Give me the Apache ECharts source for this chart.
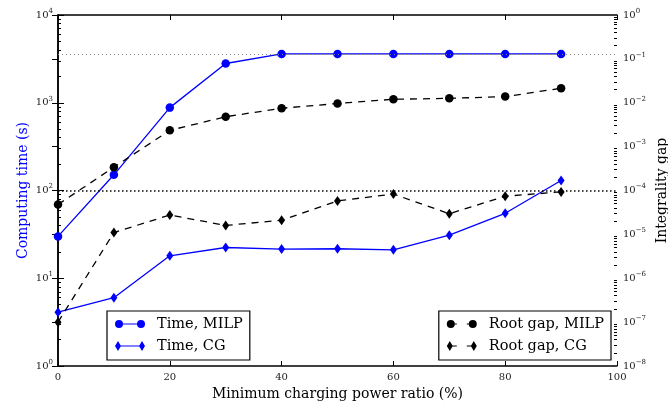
<!DOCTYPE html>
<html><head><meta charset="utf-8">
<script src="https://cdn.jsdelivr.net/npm/echarts@6/dist/echarts.min.js"></script>
<style>html,body{margin:0;padding:0;background:#fff}#c{width:668px;height:406px}</style>
</head><body><div id="c"></div>
<script>
// ---- data ----
const ratios   = [0, 10, 20, 30, 40, 50, 60, 70, 80, 90];
const timeMILP = [30, 151, 880, 2800, 3600, 3600, 3600, 3600, 3600, 3600];
const timeCG   = [4.1, 6.0, 18, 22.4, 21.5, 21.7, 21.1, 31, 55, 130];
const gapMILP  = [4.8e-5, 3.4e-4, 2.35e-3, 4.8e-3, 7.5e-3, 9.6e-3, 1.2e-2, 1.26e-2, 1.38e-2, 2.14e-2];
const gapCG    = [1.0e-7, 1.1e-5, 2.76e-5, 1.6e-5, 2.1e-5, 5.8e-5, 8.3e-5, 2.95e-5, 7.4e-5, 9.3e-5];
const timeLimit = 3600;   // grey dotted reference
const refLevel  = 100;    // black dotted reference (10^2 s / 10^-4 gap)
const seriesNames = ['Time, MILP', 'Time, CG', 'Root gap, MILP', 'Root gap, CG'];
const xTitle = 'Minimum charging power ratio (%)';
const yLeftTitle = 'Computing time (s)';
const yRightTitle = 'Integrality gap';

// minor tick positions (in decades) for the log axes
const minorMult = [2, 3, 4, 5, 6, 7, 8, 9];
function minorDecades(lo, hi) {
  const out = [];
  for (let e = lo; e < hi; e++) minorMult.forEach(m => out.push(e + Math.log10(m)));
  return out;
}
const leftMinor = minorDecades(0, 4);
const rightMinor = minorDecades(-8, 0);

const FONT = 'DejaVu Serif';
const BLUE = '#0000ff';
const pair = (xs, ys) => xs.map((x, i) => [x, ys[i]]);

function powLabel(v) {
  const e = Math.round(Math.log10(v));
  return '{b|10}{s|' + (e < 0 ? '\u2212' + (-e) : e) + '}';
}
const powRich = {
  b: { fontFamily: FONT, fontSize: 10, color: '#1a1a1a' },
  s: { fontFamily: FONT, fontSize: 7, color: '#1a1a1a', padding: [0, 0, 8, 0] }
};

const iconCircleSolid = 'path://M0,4a4,4 0 1,1 8,0a4,4 0 1,1 -8,0z M22,4a4,4 0 1,1 8,0a4,4 0 1,1 -8,0z M4,3.4H26V4.6H4z';
const iconDiamondSolid = 'path://M3,0L6,5L3,10L0,5z M27,0L30,5L27,10L24,5z M3,4.4H27V5.6H3z';
const iconCircleDash = 'path://M0,4a4,4 0 1,1 8,0a4,4 0 1,1 -8,0z M22,4a4,4 0 1,1 8,0a4,4 0 1,1 -8,0z M4,3.4H10V4.6H4z M20,3.4H26V4.6H20z';
const iconDiamondDash = 'path://M3,0L6,5L3,10L0,5z M27,0L30,5L27,10L24,5z M3,4.4H10V5.6H3z M20,4.4H27V5.6H20z';

const axisLine = { show: true, lineStyle: { color: '#000', width: 1.5 } };
const legendBase = {
  top: 311, orient: 'vertical', itemWidth: 30, itemHeight: 10, itemGap: 6,
  padding: [5, 7, 6, 8], borderColor: '#000', borderWidth: 1.2, borderRadius: 0,
  backgroundColor: '#fff', selectedMode: false,
  textStyle: { fontFamily: FONT, fontSize: 14.5, color: '#000', lineHeight: 16, padding: [0, 0, 0, 7] }
};

const chart = echarts.init(document.getElementById('c'), null, { renderer: 'canvas' });
chart.setOption({
  animation: false,
  backgroundColor: '#fff',
  grid: { left: 58, right: 51, top: 15, bottom: 40, containLabel: false, outerBoundsMode: 'none' },
  xAxis: [
    { type: 'value', min: 0, max: 100, interval: 20, position: 'bottom',
      axisLine, splitLine: { show: false },
      axisTick: { inside: true, length: 5, lineStyle: { color: '#000', width: 1 } },
      axisLabel: { margin: 6, fontFamily: FONT, fontSize: 10, color: '#1a1a1a' },
      name: xTitle, nameLocation: 'middle', nameGap: 21, nameMoveOverlap: false,
      nameTextStyle: { fontFamily: FONT, fontSize: 14, color: '#000' } },
    { type: 'value', min: 0, max: 100, interval: 20, position: 'top',
      axisLine, splitLine: { show: false },
      axisTick: { inside: true, length: 5, lineStyle: { color: '#000', width: 1 } },
      axisLabel: { show: false } }
  ],
  yAxis: [
    { type: 'log', logBase: 10, min: 1, max: 10000, interval: 1, position: 'left',
      axisLine, splitLine: { show: false }, minorTick: { show: false },
      axisTick: { inside: true, length: 6, lineStyle: { color: '#000', width: 1 } },
      axisLabel: { margin: 5, formatter: powLabel, rich: powRich },
      name: yLeftTitle, nameLocation: 'middle', nameGap: 28, nameRotate: 90, nameMoveOverlap: false,
      nameTextStyle: { fontFamily: FONT, fontSize: 14, color: BLUE } },
    { type: 'log', logBase: 10, min: 1e-8, max: 1, interval: 1, position: 'right',
      axisLine, splitLine: { show: false },
      axisTick: { inside: true, length: 6, lineStyle: { color: '#000', width: 1 } },
      axisLabel: { margin: 6, formatter: powLabel, rich: powRich },
      name: yRightTitle, nameLocation: 'middle', nameGap: 38, nameRotate: 90, nameMoveOverlap: false,
      nameTextStyle: { fontFamily: FONT, fontSize: 14, color: '#000' } },
    { type: 'value', min: 0, max: 4, position: 'left', axisLine: { show: false },
      splitLine: { show: false }, axisLabel: { show: false },
      axisTick: { show: true, inside: true, length: 3, customValues: leftMinor, lineStyle: { color: '#000', width: 1 } } },
    { type: 'value', min: -8, max: 0, position: 'right', axisLine: { show: false },
      splitLine: { show: false }, axisLabel: { show: false },
      axisTick: { show: true, inside: true, length: 3, customValues: rightMinor, lineStyle: { color: '#000', width: 1 } } }
  ],
  legend: [
    Object.assign({}, legendBase, { left: 107, data: [
      { name: seriesNames[0], icon: iconCircleSolid, itemStyle: { color: BLUE } },
      { name: seriesNames[1], icon: iconDiamondSolid, itemStyle: { color: BLUE } } ] }),
    Object.assign({}, legendBase, { right: 57, data: [
      { name: seriesNames[2], icon: iconCircleDash, itemStyle: { color: '#000' } },
      { name: seriesNames[3], icon: iconDiamondDash, itemStyle: { color: '#000' } } ] })
  ],
  series: [
    { name: seriesNames[0], type: 'line', xAxisIndex: 0, yAxisIndex: 0,
      data: pair(ratios, timeMILP), symbol: 'circle', symbolSize: 8.5,
      itemStyle: { color: BLUE }, lineStyle: { color: BLUE, width: 1.3 },
      markLine: { silent: true, symbol: 'none', label: { show: false },
        data: [
          { yAxis: timeLimit, lineStyle: { color: '#888', width: 1, type: [1, 3] } },
          { yAxis: refLevel, lineStyle: { color: '#000', width: 1.5, type: [1.5, 2.5] } }
        ] } },
    { name: seriesNames[1], type: 'line', xAxisIndex: 0, yAxisIndex: 0,
      data: pair(ratios, timeCG), symbol: 'diamond', symbolSize: [7, 10],
      itemStyle: { color: BLUE }, lineStyle: { color: BLUE, width: 1.3 } },
    { name: seriesNames[2], type: 'line', xAxisIndex: 0, yAxisIndex: 1,
      data: pair(ratios, gapMILP), symbol: 'circle', symbolSize: 8.5,
      itemStyle: { color: '#000' }, lineStyle: { color: '#000', width: 1.3, type: [7, 6] } },
    { name: seriesNames[3], type: 'line', xAxisIndex: 0, yAxisIndex: 1,
      data: pair(ratios, gapCG), symbol: 'diamond', symbolSize: [7, 10],
      itemStyle: { color: '#000' }, lineStyle: { color: '#000', width: 1.3, type: [7, 6] } }
  ]
});
</script>
</body></html>
